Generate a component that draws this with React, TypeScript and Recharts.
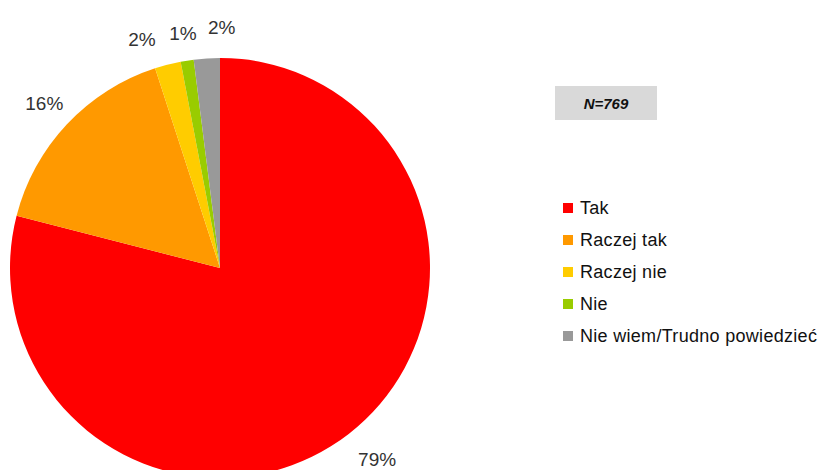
import { Legend, Pie, PieChart, Cell } from "recharts";

const categories = ["Tak", "Raczej tak", "Raczej nie", "Nie", "Nie wiem/Trudno powiedzieć"];
const shares = [79, 16, 2, 1, 2];
const colors = ["#ff0000", "#ff9900", "#ffcc00", "#99cc00", "#999999"];
const sampleLabel = "N=769";

// small label nudges so the tiny slices' percentages don't collide
const labelAngleNudge = [-1.5, 0, -4.5, 0, 4];
const labelRadiusNudge = [7, 0, 0, -4, 0];

const data = categories.map((name, i) => ({ name, value: shares[i] }));

const RADIAN = Math.PI / 180;
const FONT = "Liberation Sans, Arial, sans-serif";

function renderLabel(props: any) {
  const { cx, cy, midAngle, outerRadius, value, index } = props;
  const r = outerRadius + 31 + labelRadiusNudge[index];
  const a = (midAngle - labelAngleNudge[index]) * RADIAN;
  const x = cx + r * Math.cos(-a);
  const y = cy + r * Math.sin(-a);
  return (
    <text
      x={x}
      y={y}
      fill="#333333"
      fontSize={19}
      fontFamily={FONT}
      textAnchor="middle"
      dominantBaseline="central"
    >
      {`${value}%`}
    </text>
  );
}

function LegendList() {
  return (
    <div style={{ fontFamily: FONT }}>
      {categories.map((name, i) => (
        <div
          key={name}
          style={{ display: "flex", alignItems: "center", height: 32, fontSize: 18, color: "#111", letterSpacing: 0.3, whiteSpace: "nowrap" }}
        >
          <span style={{ display: "inline-block", width: 10, height: 10, background: colors[i], marginRight: 7 }} />
          {name}
        </div>
      ))}
    </div>
  );
}

export default function App() {
  return (
    <div style={{ position: "absolute", left: 0, top: 0, width: 823, height: 470, background: "#fff", overflow: "hidden" }}>
      <PieChart width={823} height={470} margin={{ top: 0, right: 0, bottom: 0, left: 0 }}>
        <Pie
          data={data}
          dataKey="value"
          nameKey="name"
          cx={220}
          cy={268}
          outerRadius={210}
          startAngle={90}
          endAngle={-270}
          stroke="none"
          label={renderLabel}
          labelLine={false}
          isAnimationActive={false}
        >
          {data.map((d, i) => (
            <Cell key={d.name} fill={colors[i]} />
          ))}
        </Pie>
        <Legend
          layout="vertical"
          content={() => <LegendList />}
          wrapperStyle={{ position: "absolute", left: 563, top: 192, width: 260 }}
        />
      </PieChart>
      <div
        style={{
          position: "absolute",
          left: 555,
          top: 86,
          width: 102,
          height: 34,
          background: "#d9d9d9",
          display: "flex",
          alignItems: "center",
          justifyContent: "center",
          fontFamily: FONT,
          fontWeight: "bold",
          fontStyle: "italic",
          fontSize: 15,
          color: "#111",
        }}
      >
        {sampleLabel}
      </div>
    </div>
  );
}
